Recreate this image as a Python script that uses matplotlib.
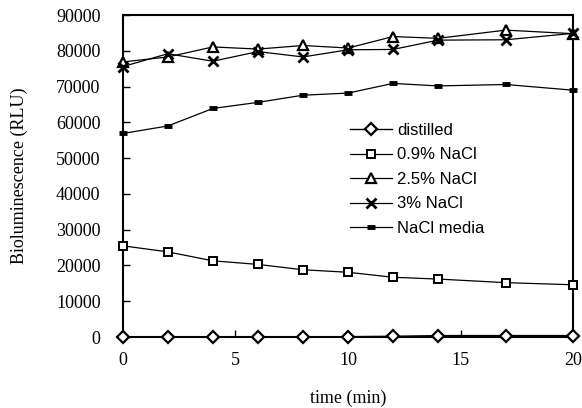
import matplotlib
matplotlib.use("Agg")
import matplotlib.pyplot as plt

time_min = [0, 2, 4, 6, 8, 10, 12, 14, 17, 20]
distilled = [0, 0, 0, 0, 0, 100, 200, 400, 400, 400]
nacl_09 = [25500, 23800, 21300, 20300, 18800, 18100, 16700, 16200, 15200, 14600]
nacl_25 = [76900, 78300, 81100, 80500, 81500, 80800, 84000, 83500, 85800, 84800]
nacl_3 = [75600, 79200, 77100, 79800, 78300, 80300, 80400, 83000, 83100, 84900]
nacl_media = [56900, 59000, 63900, 65600, 67600, 68200, 70900, 70200, 70600, 69000]

x_ticks = [0, 5, 10, 15, 20]
y_ticks = [0, 10000, 20000, 30000, 40000, 50000, 60000, 70000, 80000, 90000]

fig = plt.figure(figsize=(5.82, 4.08), dpi=100)
ax = fig.add_axes([0.211, 0.174, 0.774, 0.789])

serif = "Liberation Serif"
sans = "Liberation Sans"
k = "black"

ax.plot(time_min, distilled, color=k, lw=1.0, marker="D", ms=6, mfc="white", mec=k, mew=1.6, label="distilled", clip_on=False, zorder=5)
ax.plot(time_min, nacl_09, color=k, lw=0.9, marker="s", ms=6, mfc="white", mec=k, mew=1.4, label="0.9% NaCl", clip_on=False, zorder=5)
ax.plot(time_min, nacl_25, color=k, lw=0.9, marker="^", ms=6.5, mfc="white", mec=k, mew=1.6, label="2.5% NaCl", clip_on=False, zorder=5)
ax.plot(time_min, nacl_3, color=k, lw=0.9, marker="x", ms=7, mec=k, mew=2.0, label="3% NaCl", clip_on=False, zorder=5)
ax.plot(time_min, nacl_media, color=k, lw=0.9, marker="_", ms=6, mec=k, mew=3.5, label="NaCl media", clip_on=False, zorder=5)

ax.set_xlim(0, 20)
ax.set_ylim(0, 90000)
ax.set_xticks(x_ticks)
ax.set_yticks(y_ticks)
ax.set_xticklabels([str(t) for t in x_ticks], fontfamily=serif, fontsize=13)
ax.set_yticklabels([str(t) for t in y_ticks], fontfamily=serif, fontsize=13)
ax.tick_params(direction="in", length=5, width=1.0)
ax.tick_params(axis="y", pad=16)
ax.tick_params(axis="x", pad=11)

for s in ax.spines.values():
    s.set_linewidth(1.5)

ax.set_xlabel("time (min)", fontfamily=serif, fontsize=13, labelpad=15)
ax.set_ylabel("Bioluminescence (RLU)", fontfamily=serif, fontsize=13, labelpad=20)

leg = ax.legend(loc="upper left", bbox_to_anchor=(0.505, 0.665), frameon=False,
                prop={"family": sans, "size": 12}, handlelength=2.5,
                handletextpad=0.3, labelspacing=0.57, borderpad=0, borderaxespad=0)

fig.savefig("out.png", dpi=100)
